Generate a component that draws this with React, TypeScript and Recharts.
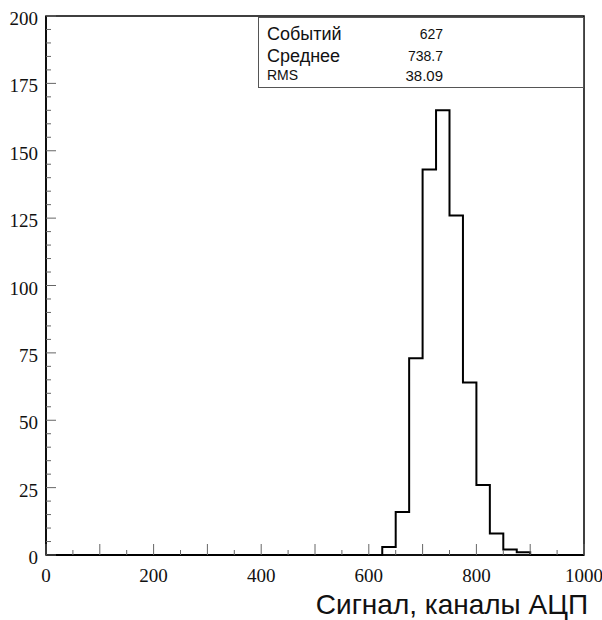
import { ComposedChart, Line, XAxis, YAxis, ReferenceArea } from 'recharts'

// histogram of ADC signal, 25-channel bins from 0 to 1000
const BIN_WIDTH = 25
const COUNTS = [
  0, 0, 0, 0, 0, 0, 0, 0, 0, 0,
  0, 0, 0, 0, 0, 0, 0, 0, 0, 0,
  0, 0, 0, 0, 0, 3, 16, 73, 143, 165,
  126, 64, 26, 8, 2, 1, 0, 0, 0, 0,
]
const X_TICKS = [0, 50, 100, 150, 200, 250, 300, 350, 400, 450, 500, 550, 600, 650, 700, 750, 800, 850, 900, 950, 1000]
const Y_TICKS = [
  0, 5, 10, 15, 20, 25, 30, 35, 40, 45, 50, 55, 60, 65, 70, 75, 80, 85, 90, 95, 100,
  105, 110, 115, 120, 125, 130, 135, 140, 145, 150, 155, 160, 165, 170, 175, 180, 185, 190, 195, 200,
]
const STATS = [
  { name: 'Событий', value: '627', size: 18, vsize: 14 },
  { name: 'Среднее', value: '738.7', size: 18, vsize: 14 },
  { name: 'RMS', value: '38.09', size: 14, vsize: 15 },
]

// step line needs the closing edge too
const data = [
  ...COUNTS.map((c, i) => ({ x: i * BIN_WIDTH, count: c })),
  { x: COUNTS.length * BIN_WIDTH, count: COUNTS[COUNTS.length - 1] },
]

const TM = 10
const serif = "'Liberation Serif', 'DejaVu Serif', serif"
const sans = "'Liberation Sans', Arial, sans-serif"

function XTick(props: any) {
  const { x, y, payload } = props
  const axisY = y - TM
  const v = payload.value
  const len = v % 100 === 0 ? 11 : 5
  return (
    <g>
      <line x1={x} x2={x} y1={axisY} y2={axisY - len} stroke="#666" strokeWidth={1} />
      {v % 200 === 0 && (
        <text x={x} y={axisY + 27} textAnchor="middle" style={{ fontFamily: serif, fontSize: '19px' }} fill="#111">{String(v)}</text>
      )}
    </g>
  )
}

function YTick(props: any) {
  const { x, y, payload } = props
  const axisX = x + TM
  const v = payload.value
  const len = v % 25 === 0 ? 10 : 5
  return (
    <g>
      <line x1={axisX} x2={axisX + len} y1={y} y2={y} stroke="#666" strokeWidth={1} />
      {v % 25 === 0 && (
        <text x={axisX - 8} y={y + 9} textAnchor="end" style={{ fontFamily: serif, fontSize: '19px' }} fill="#111">{String(v)}</text>
      )}
    </g>
  )
}

export default function App() {
  return (
    <div style={{ position: 'absolute', left: 0, top: 0, width: 602, height: 620, background: '#fff' }}>
      <ComposedChart width={602} height={620} data={data} margin={{ top: 16, right: 18, left: 0, bottom: 35 }}>
        <XAxis
          dataKey="x"
          type="number"
          domain={[0, 1000]}
          ticks={X_TICKS}
          interval={0}
          tickSize={0}
          tickMargin={TM}
          tick={(p: any) => <XTick {...p} />}
          height={30}
          axisLine={{ stroke: '#000', strokeWidth: 1.5 }}
        />
        <YAxis
          type="number"
          domain={[0, 200]}
          ticks={Y_TICKS}
          interval={0}
          tickSize={0}
          tickMargin={TM}
          tick={(p: any) => <YTick {...p} />}
          width={46}
          axisLine={{ stroke: '#000', strokeWidth: 1.5 }}
        />
        <ReferenceArea x1={0} x2={1000} y1={0} y2={200} fill="none" stroke="#000" strokeWidth={1.5} />
        <Line
          type="stepAfter"
          dataKey="count"
          stroke="#000"
          strokeWidth={2}
          dot={false}
          activeDot={false}
          isAnimationActive={false}
        />
      </ComposedChart>

      <div style={{ position: 'absolute', left: 258, top: 17, width: 324, height: 69, border: '1px solid #555', background: '#fff', fontFamily: sans, color: '#111' }}>
        {STATS.map((s, i) => (
          <div key={s.name} style={{ position: 'absolute', left: 0, top: [6, 28, 47][i], width: 324, height: 21 }}>
            <span style={{ position: 'absolute', left: 8, top: 0, fontSize: s.size, lineHeight: '21px' }}>{s.name}</span>
            <span style={{ position: 'absolute', right: 140, top: 0, fontSize: s.vsize, lineHeight: '21px' }}>{s.value}</span>
          </div>
        ))}
      </div>

      <div style={{ position: 'absolute', right: 14, top: 587, fontFamily: sans, fontSize: 28, lineHeight: '36px', color: '#111', whiteSpace: 'nowrap' }}>
        Сигнал, каналы АЦП
      </div>
    </div>
  )
}
